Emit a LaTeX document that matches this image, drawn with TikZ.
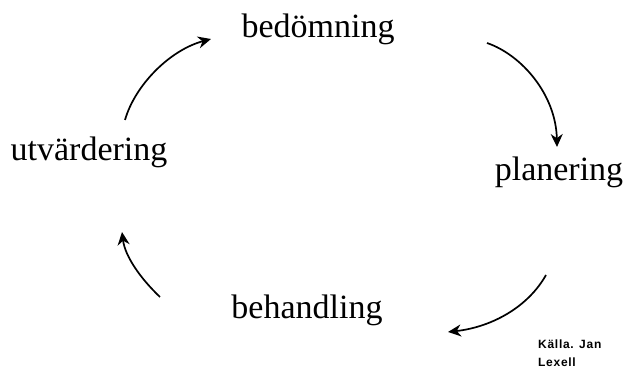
\documentclass[tikz,border=0pt]{standalone}
\usepackage{fontspec}
\setmainfont{Liberation Serif}
\newfontfamily\srcfont[LetterSpace=6]{Liberation Sans}
\usetikzlibrary{arrows.meta}
\begin{document}
\begin{tikzpicture}[x=1pt,y=-1pt,
  word/.style={font=\fontsize{34}{36}\selectfont, inner sep=0pt, anchor=base},
  cyc/.style={line width=1.7pt, -{Stealth[length=13pt,width=12pt]}},
  src/.style={font=\srcfont\bfseries\fontsize{12}{18}\selectfont, align=left, anchor=base west, inner sep=0pt}]
\useasboundingbox (0,0) rectangle (625,374);
\node[word] (bed) at (318,38) {bedömning};
\node[word] (utv) at (89,161) {utvärdering};
\node[word] (pla) at (559,181) {planering};
\node[word] (beh) at (307,319) {behandling};
\node[src] (kal) at (538,367) {Källa. Jan\\Lexell};
\coordinate (a1s) at (125,120); \coordinate (a1e) at (211,39);
\coordinate (a2s) at (487,43);  \coordinate (a2e) at (557,147);
\coordinate (a3s) at (546,275); \coordinate (a3e) at (448,332);
\coordinate (a4s) at (160,297); \coordinate (a4e) at (122,232);
\draw[cyc] (a1s) .. controls (135,85) and (170,50) .. (a1e);
\draw[cyc] (a2s) .. controls (522,55) and (556,95) .. (a2e);
\draw[cyc] (a3s) .. controls (528,307) and (492,327) .. (a3e);
\draw[cyc] (a4s) .. controls (140,278) and (125,256) .. (a4e);
\end{tikzpicture}
\end{document}
